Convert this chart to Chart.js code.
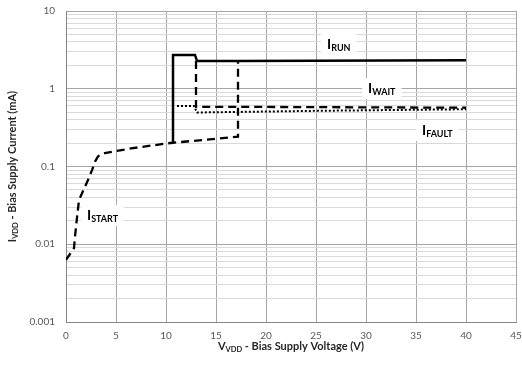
<!DOCTYPE html>
<html>
<head>
<meta charset="utf-8">
<title>Bias Supply Current vs Voltage</title>
<script src="https://cdn.jsdelivr.net/npm/chart.js@4.4.1/dist/chart.umd.min.js"></script>
<style>
  html, body { margin: 0; padding: 0; background: #fff; }
  #chart { display: block; }
</style>
</head>
<body>
<canvas id="chart" width="522" height="369"></canvas>
<script>
const canvas = document.getElementById("chart");
const fontFamily = "Lato, 'Open Sans', sans-serif";

//x axis ticks (V)
const xTicks = [0, 5, 10, 15, 20, 25, 30, 35, 40, 45];
//decades of the log axis (mA)
const yDecades = [0.001, 0.01, 0.1, 1, 10];

//I_START - startup current, jumps up at turn-on
const startV = [0, 0.8, 0.9, 1.1, 1.3, 1.9, 2.2, 2.6, 2.9, 3.2, 3.6, 4.0, 6.5, 10.2, 10.7, 17.2, 17.2];
const startI = [0.0063, 0.0089, 0.0125, 0.022, 0.037, 0.055, 0.067, 0.09, 0.115, 0.135, 0.145, 0.15, 0.171, 0.199, 0.202, 0.242, 2.27];
//I_RUN
const runV = [10.7, 10.7, 12.9, 13.1, 17.2, 40];
const runI = [0.202, 2.72, 2.72, 2.27, 2.27, 2.33];
//I_WAIT
const waitV = [13, 13, 17.2, 40];
const waitI = [2.27, 0.585, 0.585, 0.57];
//I_FAULT
const faultV = [11.1, 12.8, 13.1, 25, 40];
const faultI = [0.6, 0.6, 0.495, 0.52, 0.545];

//curve names, placed in data units (left edge of text, middle of caps)
const curveLabels = [
  { main: "I", sub: "RUN", v: 26.1, i: 3.77 },
  { main: "I", sub: "WAIT", v: 30.2, i: 1.02 },
  { main: "I", sub: "FAULT", v: 35.6, i: 0.294 },
  { main: "I", sub: "START", v: 2.1, i: 0.0238 },
];

const zip = (xs, ys) => xs.map((x, k) => ({ x: x, y: ys[k] }));
const isDecade = v => Math.abs(Math.log10(v) - Math.round(Math.log10(v))) < 1e-6;

//minor gridlines 2..9 inside every decade
const yTicks = [];
yDecades.forEach((d, k) => {
  if (k === yDecades.length - 1) { yTicks.push(d); return; }
  for (let m = 1; m <= 9; m++) yTicks.push(d * m);
});

//draws text pieces one after another, sub pieces smaller and lower
function measureParts(ctx, parts) {
  let w = 0;
  parts.forEach(p => {
    ctx.font = "bold " + p.size + "px " + fontFamily;
    w += ctx.measureText(p.text).width;
  });
  return w;
}
function drawParts(ctx, parts, x, y, color) {
  ctx.fillStyle = color;
  ctx.textBaseline = "alphabetic";
  ctx.textAlign = "left";
  parts.forEach(p => {
    ctx.font = "bold " + p.size + "px " + fontFamily;
    ctx.fillText(p.text, x, y + (p.dy || 0));
    x += ctx.measureText(p.text).width;
  });
}

const textLayer = {
  id: "textLayer",
  beforeDatasetsDraw(chart) {
    const ctx = chart.ctx;
    const xs = chart.scales.x, ys = chart.scales.y;
    ctx.save();
    curveLabels.forEach(l => {
      const px = xs.getPixelForValue(l.v);
      const py = ys.getPixelForValue(l.i);
      const parts = [{ text: l.main, size: 14 }, { text: l.sub, size: 9, dy: 2 }];
      const w = measureParts(ctx, parts);
      ctx.fillStyle = "#ffffff";
      ctx.fillRect(px - 6, py - 10, w + 12, 21);
      drawParts(ctx, parts, px, py + 5, "#000000");
    });
    ctx.restore();
  },
  afterDraw(chart) {
    const ctx = chart.ctx;
    const area = chart.chartArea;
    ctx.save();
    //x axis title
    const xParts = [
      { text: "V", size: 11 },
      { text: "VDD", size: 7.5, dy: 2 },
      { text: " - Bias Supply Voltage (V)", size: 11 },
    ];
    const xw = measureParts(ctx, xParts);
    drawParts(ctx, xParts, (area.left + area.right) / 2 - xw / 2, 350, "#262626");
    //y axis title, rotated
    const yParts = [
      { text: "I", size: 11 },
      { text: "VDD", size: 7.5, dy: 2 },
      { text: " - Bias Supply Current (mA)", size: 11 },
    ];
    const yw = measureParts(ctx, yParts);
    ctx.translate(12, (area.top + area.bottom) / 2);
    ctx.rotate(-Math.PI / 2);
    drawParts(ctx, yParts, -yw / 2, 4, "#262626");
    ctx.restore();
  },
};

let myChart = new Chart(canvas, {
  type: "line",
  data: {
    datasets: [
      {
        label: "IRUN",
        data: zip(runV, runI),
        borderColor: "#000000",
        borderWidth: 2.5,
      },
      {
        label: "IWAIT",
        data: zip(waitV, waitI),
        borderColor: "#000000",
        borderWidth: 2.3,
        borderDash: [8, 5],
      },
      {
        label: "IFAULT",
        data: zip(faultV, faultI),
        borderColor: "#000000",
        borderWidth: 2,
        borderDash: [2, 2],
      },
      {
        label: "ISTART",
        data: zip(startV, startI),
        borderColor: "#000000",
        borderWidth: 2.3,
        borderDash: [8, 5],
      },
    ],
  },
  options: {
    responsive: false,
    devicePixelRatio: 1,
    animation: false,
    layout: { padding: { top: 11, right: 6, left: 0, bottom: 0 } },
    elements: {
      point: { radius: 0, hoverRadius: 0 },
      line: { tension: 0, fill: false },
    },
    plugins: {
      legend: { display: false },
      tooltip: { enabled: false },
    },
    scales: {
      x: {
        type: "linear",
        min: 0,
        max: 45,
        afterBuildTicks: s => { s.ticks = xTicks.map(v => ({ value: v })); },
        afterFit: s => {
          s.height = 47;
          s.paddingLeft = 0;
          s.paddingRight = 0;
        },
        grid: { color: "#a6a6a6", drawTicks: false },
        border: { color: "#868686" },
        ticks: {
          color: "#595959",
          font: { family: fontFamily, size: 10 },
          padding: 8,
          maxRotation: 0,
        },
      },
      y: {
        type: "logarithmic",
        min: 0.001,
        max: 10,
        afterBuildTicks: s => { s.ticks = yTicks.map(v => ({ value: v })); },
        afterFit: s => {
          s.width = 66;
          s.paddingTop = 0;
          s.paddingBottom = 0;
        },
        grid: {
          color: ctx => (ctx.tick && !isDecade(ctx.tick.value) ? "#d9d9d9" : "#a6a6a6"),
          drawTicks: false,
        },
        border: { color: "#868686" },
        ticks: {
          color: "#595959",
          font: { family: fontFamily, size: 10 },
          padding: 11,
          autoSkip: false,
          callback: v => (isDecade(v) ? String(yDecades.find(d => Math.abs(d - v) < d * 1e-6)) : ""),
        },
      },
    },
  },
  plugins: [textLayer],
});
</script>
</body>
</html>
